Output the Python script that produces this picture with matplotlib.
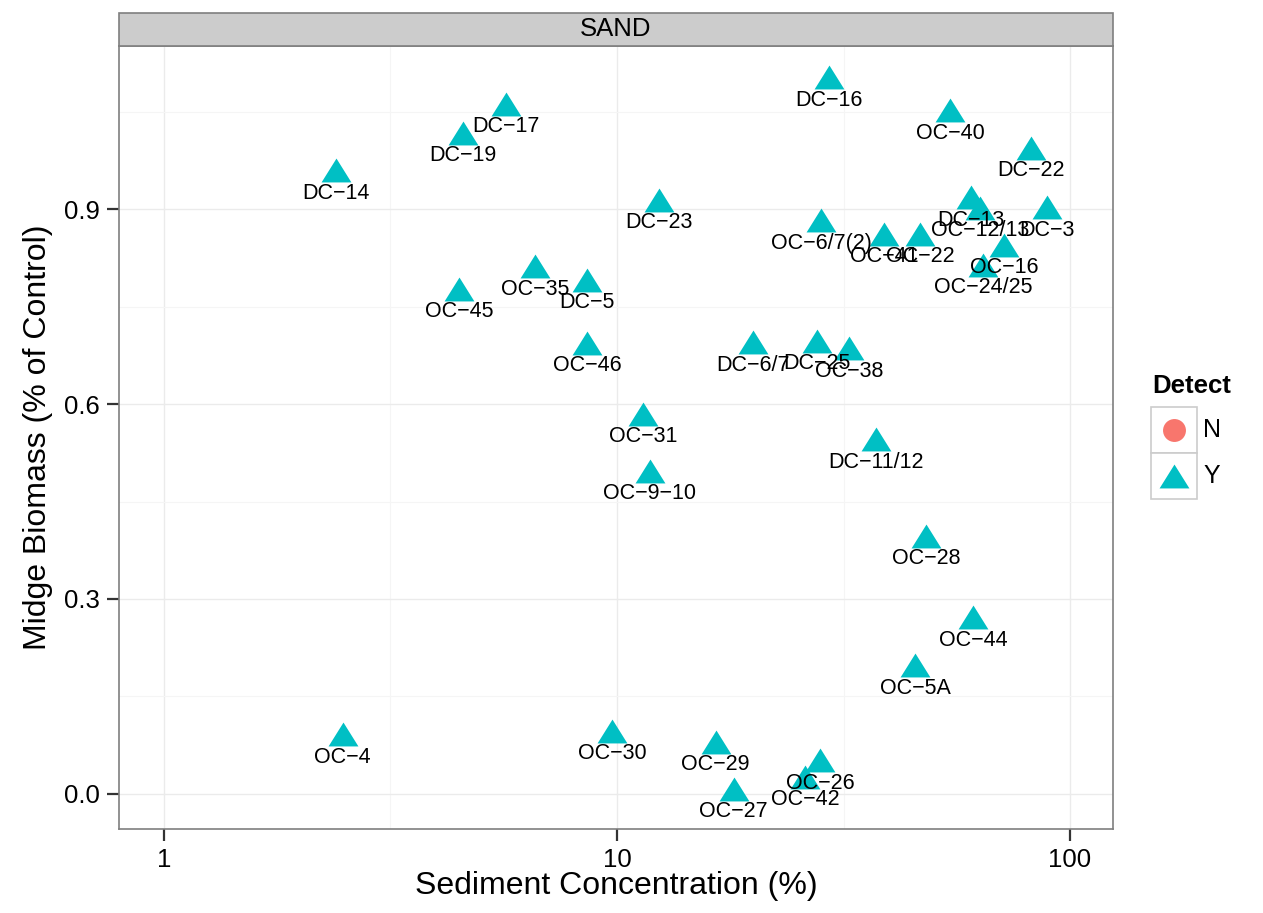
import matplotlib
matplotlib.use("Agg")
import matplotlib.pyplot as plt
from matplotlib.patches import Rectangle
from matplotlib.ticker import FixedLocator, NullFormatter
import numpy as np

plt.rcParams["font.family"] = ["Liberation Sans", "DejaVu Sans"]

# sample data
sites = ["DC\u221216", "OC\u221240", "DC\u221222", "DC\u221217", "DC\u221219", "DC\u221214",
         "DC\u221223", "OC\u22126/7(2)", "OC\u221241", "OC\u221222", "DC\u221213",
         "OC\u221212/13", "DC\u22123", "OC\u221216", "OC\u221224/25", "OC\u221235",
         "DC\u22125", "OC\u221245", "OC\u221246", "DC\u22126/7", "DC\u221225", "OC\u221238",
         "OC\u221231", "DC\u221211/12", "OC\u22129\u221210", "OC\u221228", "OC\u221244",
         "OC\u22125A", "OC\u22124", "OC\u221230", "OC\u221229", "OC\u221227", "OC\u221226",
         "OC\u221242"]
sediment = [29.4, 54.3, 82.0, 5.69, 4.57, 2.40,
            12.4, 28.2, 38.8, 46.7, 60.5,
            63.3, 89.0, 71.5, 64.3, 6.59,
            8.59, 4.48, 8.59, 19.96, 27.6, 32.5,
            11.4, 37.3, 11.8, 48.1, 61.1,
            45.5, 2.48, 9.75, 16.5, 18.1, 28.1,
            26.0]
biomass = [1.103, 1.052, 0.994, 1.062, 1.017, 0.960,
           0.914, 0.883, 0.862, 0.862, 0.918,
           0.902, 0.903, 0.845, 0.814, 0.812,
           0.791, 0.777, 0.694, 0.695, 0.697, 0.686,
           0.585, 0.546, 0.497, 0.397, 0.272,
           0.198, 0.092, 0.097, 0.080, 0.008, 0.052,
           0.026]
detect = ["Y"] * len(sites)

detect_levels = ["N", "Y"]
detect_colors = {"N": "#F8766D", "Y": "#00BFC4"}
tri = [(0, 0.8), (-1, -0.8), (1, -0.8), (0, 0.8)]
detect_markers = {"N": "o", "Y": tri}

W, H = 1263, 913
fig = plt.figure(figsize=(W / 100, H / 100), dpi=100)
L, R, T, B = 119, 1113, 46, 829
ax = fig.add_axes([L / W, (H - B) / H, (R - L) / W, (B - T) / H])

ax.set_xscale("log")
ax.set_xlim(0.796, 124.4)
ax.set_ylim(-0.054, 1.151)

sed = np.array(sediment)
bio = np.array(biomass)
det = np.array(detect)
for lev in detect_levels:
    m = det == lev
    if m.any():
        ax.plot(sed[m], bio[m], linestyle="none", marker=detect_markers[lev],
                ms=21.5, color=detect_colors[lev], mew=0, zorder=3)
for s, x, y in zip(sites, sediment, biomass):
    ax.annotate(s, (x, y), xytext=(0, -16.5), textcoords="offset points",
                ha="center", va="center", fontsize=15.5, color="black", zorder=4)

# grid and ticks
ax.set_xticks([1, 10, 100])
ax.set_xticklabels(["1", "10", "100"])
ax.xaxis.set_minor_locator(FixedLocator([10 ** 0.5, 10 ** 1.5]))
ax.xaxis.set_minor_formatter(NullFormatter())
ax.set_yticks([0.0, 0.3, 0.6, 0.9])
ax.set_yticklabels(["0.0", "0.3", "0.6", "0.9"])
ax.yaxis.set_minor_locator(FixedLocator([0.15, 0.45, 0.75, 1.05]))
ax.grid(True, which="major", color="#EBEBEB", lw=1.0, zorder=0)
ax.grid(True, which="minor", color="#F5F5F5", lw=0.8, zorder=0)
ax.set_axisbelow(True)
ax.tick_params(which="minor", length=0)
ax.tick_params(which="major", length=8.5, width=1.6, color="#333333",
               labelsize=18.5, labelcolor="black", pad=5.5)
for sp in ax.spines.values():
    sp.set_color("#7F7F7F")
    sp.set_linewidth(1.2)

ax.set_xlabel("Sediment Concentration (%)", fontsize=23)
ax.set_ylabel("Midge Biomass (% of Control)", fontsize=23)
ax.xaxis.set_label_coords(0.5, (B - 886) / (B - T))
ax.xaxis.label.set_va("center")
ax.yaxis.set_label_coords((38 - L) / (R - L), 0.5)
ax.yaxis.label.set_va("center")

# overlay in pixel coordinates for strip and legend
ov = fig.add_axes([0, 0, 1, 1], zorder=5)
ov.set_xlim(0, W)
ov.set_ylim(H, 0)
ov.axis("off")
ov.patch.set_alpha(0)

ov.add_patch(Rectangle((L, 13), R - L, T - 13, facecolor="#CCCCCC",
                       edgecolor="#7F7F7F", lw=1.2))
ov.text((L + R) / 2, 28.5, "SAND", ha="center", va="center", fontsize=18.5)

ov.text(1152, 386, "Detect", ha="left", va="center", fontsize=18.5,
        fontweight="bold")
key_top = 407
key_h = 46
for i, lev in enumerate(detect_levels):
    y0 = key_top + i * key_h
    ov.add_patch(Rectangle((1151, y0), 46, key_h, facecolor="white",
                           edgecolor="#CCCCCC", lw=1.2))
    ms = 16.5 if lev == "N" else 21.5
    ov.plot([1174], [y0 + key_h / 2], marker=detect_markers[lev], ms=ms,
            color=detect_colors[lev], mew=0, linestyle="none")
    ov.text(1203, y0 + key_h / 2, lev, ha="left", va="center", fontsize=18)

fig.savefig("out.png", dpi=100)
